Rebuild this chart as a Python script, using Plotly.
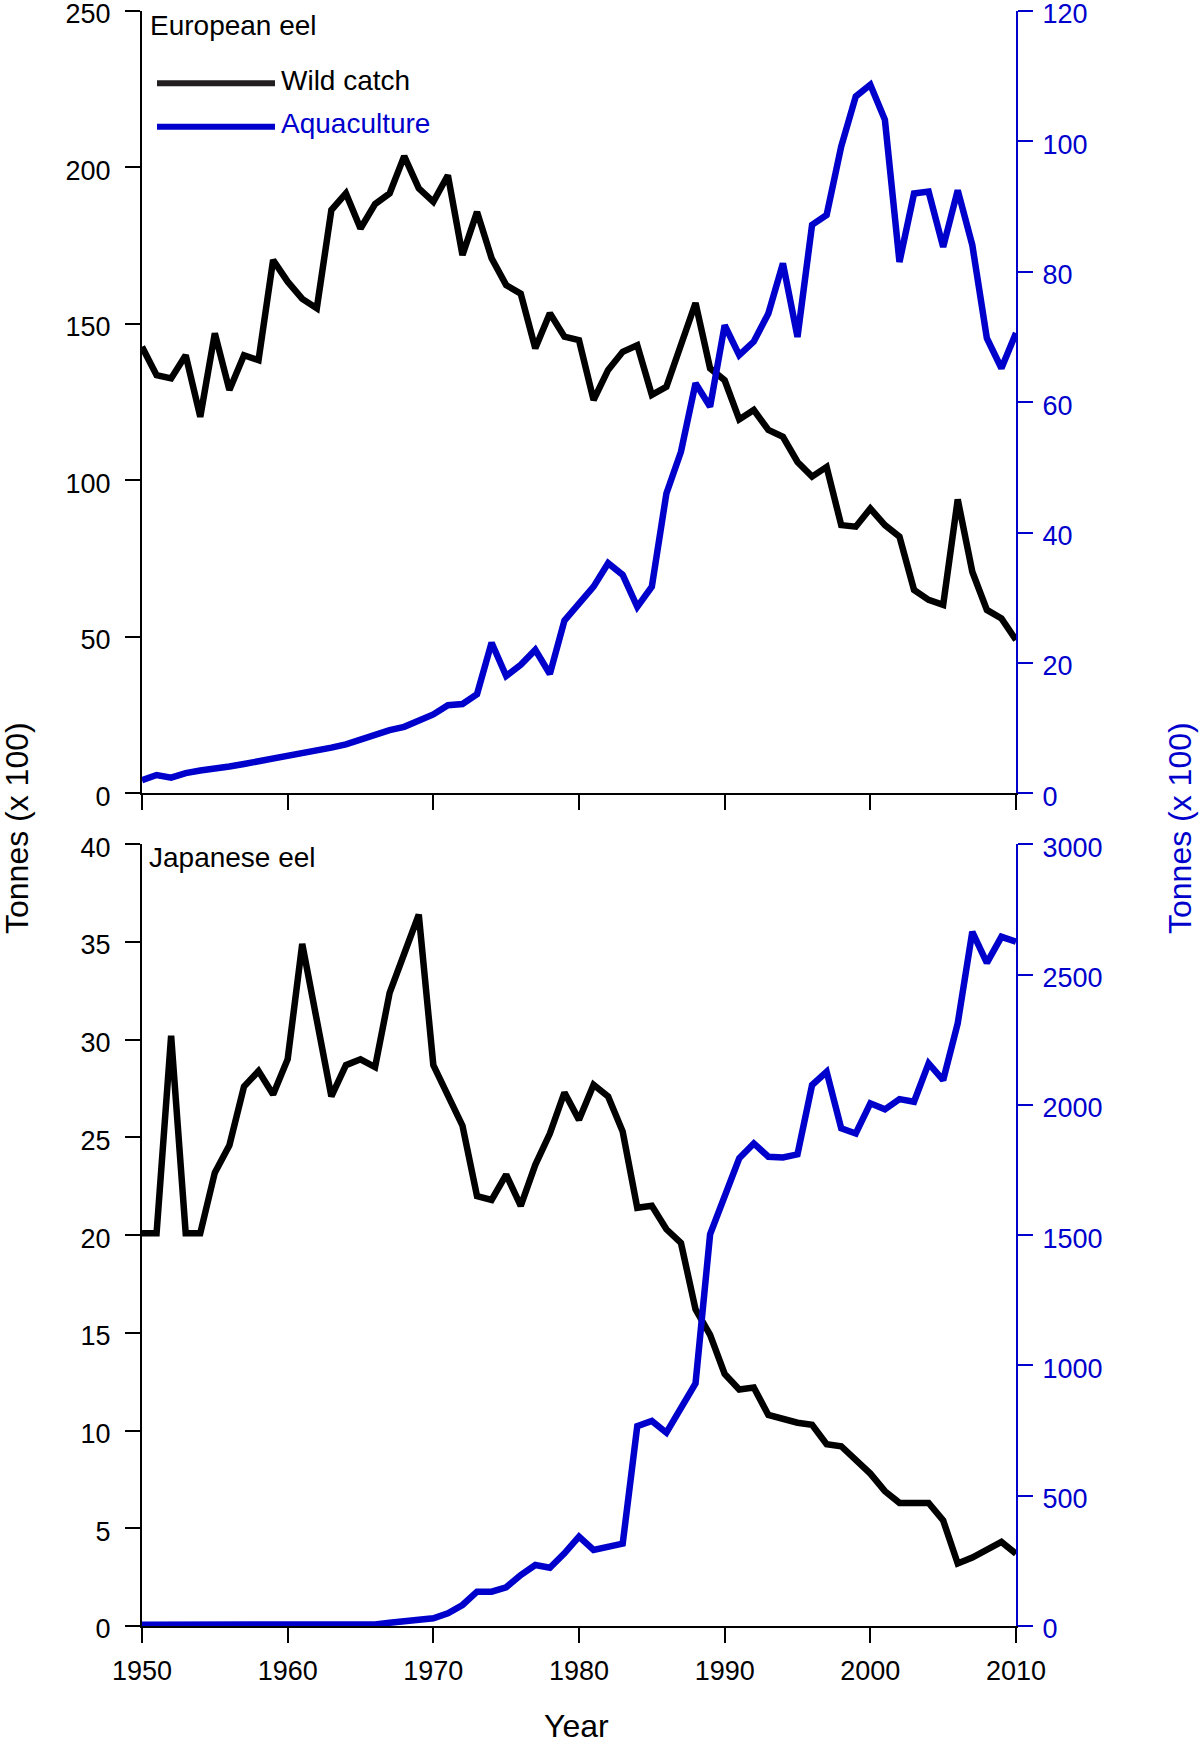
import plotly.graph_objects as go

years = list(range(1950, 2011))

eu_wild = [142.7, 133.6, 132.6, 140.0, 120.3, 147.0, 128.9, 140.0, 138.4, 170.4,
           163.5, 158.0, 155.0, 186.4, 191.7, 180.5, 188.3, 191.7, 203.6, 193.3,
           189.0, 197.5, 172.0, 185.8, 171.0, 162.4, 159.7, 142.2, 153.4, 145.9,
           144.8, 125.7, 135.3, 141.1, 143.2, 127.3, 129.9, 142.7, 156.7, 135.8,
           132.0, 119.5, 122.5, 116.1, 113.9, 105.9, 101.2, 104.3, 85.7, 85.2,
           91.0, 85.7, 82.0, 65.0, 61.8, 60.2, 93.9, 70.8, 58.6, 55.9,
           49.0]

eu_aqua = [2.0, 2.8, 2.4, 3.1, 3.5, 3.7, 4.1, 4.5, 4.9, 5.2,
           5.6, 6.1, 6.5, 7.0, 7.5, 8.3, 9.1, 9.7, 10.2, 11.1,
           12.1, 13.5, 13.7, 15.2, 23.1, 18.0, 19.7, 22.0, 18.3, 26.5,
           29.0, 31.7, 35.3, 33.5, 28.6, 31.7, 46.0, 52.4, 62.9, 59.3,
           71.8, 67.2, 69.3, 73.6, 81.3, 70.0, 87.2, 88.7, 99.2, 106.9,
           108.7, 103.3, 81.5, 92.0, 92.3, 83.8, 92.5, 84.1, 69.8, 65.2,
           70.6]

jp_wild = [20.1, 20.1, 30.2, 20.1, 20.1, 23.2, 24.6, 27.6, 28.4, 27.2,
           29.0, 34.9, 31.0, 27.1, 28.7, 29.0, 28.6, 32.4, 34.4, 36.4,
           28.7, 27.2, 25.6, 22.0, 21.8, 23.1, 21.5, 23.6, 25.2, 27.3,
           25.9, 27.7, 27.1, 25.3, 21.4, 21.5, 20.3, 19.6, 16.2, 14.9,
           12.9, 12.1, 12.2, 10.8, 10.6, 10.4, 10.3, 9.3, 9.2, 8.5,
           7.8, 6.9, 6.3, 6.3, 6.3, 5.4, 3.2, 3.5, 3.9, 4.3,
           3.7]

jp_aqua = [5, 5, 5, 5, 5, 5, 5, 5, 5, 5,
           5, 6, 6, 6, 6, 6, 6, 12.7, 16.6, 25.6,
           29.4, 48.6, 80.6, 131.7, 131.7, 148.4, 195.7, 234, 223.8, 279,
           342.8, 291.6, 305, 316, 767, 787, 742, 833, 931, 1503,
           1654, 1795, 1852, 1801, 1798, 1810, 2076, 2127, 1910, 1890,
           2006, 1983, 2022, 2012, 2159, 2095, 2313, 2664, 2545, 2645,
           2626]

x_ticks = [1950, 1960, 1970, 1980, 1990, 2000, 2010]
eu_left_ticks = [0, 50, 100, 150, 200, 250]
eu_right_ticks = [0, 20, 40, 60, 80, 100, 120]
jp_left_ticks = [0, 5, 10, 15, 20, 25, 30, 35, 40]
jp_right_ticks = [0, 500, 1000, 1500, 2000, 2500, 3000]

BLACK = "#000000"
BLUE = "#0000cc"
FONT = "Liberation Sans, Arial, sans-serif"
LW = 6.5

fig = go.Figure()
fig.add_trace(go.Scatter(x=years, y=eu_aqua, mode="lines", line=dict(color=BLUE, width=LW),
                         xaxis="x", yaxis="y2", showlegend=False))
fig.add_trace(go.Scatter(x=years, y=eu_wild, mode="lines", line=dict(color=BLACK, width=LW),
                         xaxis="x", yaxis="y", showlegend=False))
fig.add_trace(go.Scatter(x=years, y=jp_aqua, mode="lines", line=dict(color=BLUE, width=LW),
                         xaxis="x2", yaxis="y4", showlegend=False))
fig.add_trace(go.Scatter(x=years, y=jp_wild, mode="lines", line=dict(color=BLACK, width=LW),
                         xaxis="x2", yaxis="y3", showlegend=False))

W, H = 1200, 1743
PL, PR, PT, PB = 142, 1016, 11, 1626  # plot-area edges in page pixels
ml, mt = PL, PT
mr, mb = W - PR, H - PB
pw, ph = PR - PL, PB - PT


def px(x):
    return (x - PL) / pw


def py(y):
    return (PB - y) / ph


top_dom = [py(793.3), 1.0]
bot_dom = [0.0, py(844.3)]

tickfont = dict(family=FONT, size=27, color=BLACK)
tickfont_b = dict(family=FONT, size=27, color=BLUE)

common_x = dict(range=[1950, 2010], tickvals=x_ticks, showline=True, linecolor=BLACK, linewidth=2,
                ticks="outside", ticklen=15, tickwidth=2, tickcolor=BLACK, showgrid=False,
                zeroline=False, tickfont=tickfont, automargin=False, ticklabelstandoff=5,
                ticklabeloverflow="allow")
common_y = dict(showline=True, linewidth=2, ticks="outside", ticklen=15, tickwidth=2,
                showgrid=False, zeroline=False, automargin=False, ticklabeloverflow="allow",
                ticklabelshift=3)

fig.update_layout(
    width=W, height=H,
    margin=dict(l=ml, r=mr, t=mt, b=mb, autoexpand=False),
    paper_bgcolor="white", plot_bgcolor="white",
    font=dict(family=FONT, color=BLACK),
    xaxis=dict(domain=[0, 1], anchor="y", showticklabels=False, **common_x),
    xaxis2=dict(domain=[0, 1], anchor="y3", showticklabels=True, **common_x),
    yaxis=dict(domain=top_dom, anchor="x", range=[0, 250], tickvals=eu_left_ticks,
               linecolor=BLACK, tickcolor=BLACK, tickfont=tickfont, ticklabelstandoff=9, **common_y),
    yaxis2=dict(overlaying="y", side="right", anchor="x", range=[0, 120], tickvals=eu_right_ticks,
                linecolor=BLUE, tickcolor=BLUE, tickfont=tickfont_b, ticklabelstandoff=4, **common_y),
    yaxis3=dict(domain=bot_dom, anchor="x2", range=[0, 40], tickvals=jp_left_ticks,
                linecolor=BLACK, tickcolor=BLACK, tickfont=tickfont, ticklabelstandoff=9, **common_y),
    yaxis4=dict(overlaying="y3", side="right", anchor="x2", range=[0, 3000], tickvals=jp_right_ticks,
                linecolor=BLUE, tickcolor=BLUE, tickfont=tickfont_b, ticklabelstandoff=4, **common_y),
)

shapes = [
    dict(type="line", xref="paper", yref="paper", x0=px(157), x1=px(275), y0=py(83.3), y1=py(83.3),
         line=dict(color="#231f20", width=6)),
    dict(type="line", xref="paper", yref="paper", x0=px(157), x1=px(275), y0=py(126.7), y1=py(126.7),
         line=dict(color=BLUE, width=6)),
]
fig.update_layout(shapes=shapes)

annots = [
    dict(text="Wild catch", x=px(279), y=py(81), xanchor="left", yanchor="middle",
         font=dict(family=FONT, size=28, color=BLACK)),
    dict(text="Aquaculture", x=px(279), y=py(123), xanchor="left", yanchor="middle",
         font=dict(family=FONT, size=28, color=BLUE)),
    dict(text="European eel", x=px(148), y=py(25), xanchor="left", yanchor="middle",
         font=dict(family=FONT, size=28, color=BLACK)),
    dict(text="Japanese eel", x=px(147), y=py(857), xanchor="left", yanchor="middle",
         font=dict(family=FONT, size=28, color=BLACK)),
    dict(text="Tonnes (x 100)", x=px(17), y=py(828), xanchor="center", yanchor="middle",
         textangle=-90, font=dict(family=FONT, size=32, color=BLACK)),
    dict(text="Tonnes (x 100)", x=px(1180), y=py(828), xanchor="center", yanchor="middle",
         textangle=-90, font=dict(family=FONT, size=32, color=BLUE)),
    dict(text="Year", x=px(576), y=py(1726), xanchor="center", yanchor="middle",
         font=dict(family=FONT, size=32, color=BLACK)),
]
for a in annots:
    a.update(xref="paper", yref="paper", showarrow=False)
fig.update_layout(annotations=annots)

# remove the browser's default 8px body margin so the figure fills the window exactly
fig.write_html("out.html", config={"displayModeBar": False},
               post_script="document.body.style.margin='0';")
